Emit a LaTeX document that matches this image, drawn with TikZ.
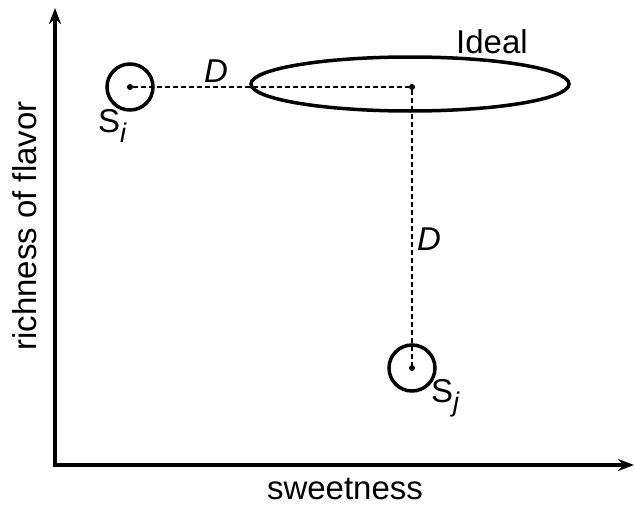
\documentclass[tikz,border=0pt]{standalone}
\usepackage{fontspec}
\setmainfont{Liberation Sans}
\usetikzlibrary{arrows.meta}
\begin{document}
\begin{tikzpicture}[x=1pt,y=-1pt,
  axis/.style={line width=3.6pt,-{Stealth[length=16pt,width=12pt]}},
  thick curve/.style={line width=3.5pt},
  dist/.style={line width=1.4pt,dash pattern=on 4.5pt off 3.5pt},
  lbl/.style={font=\fontsize{33}{38}\selectfont,inner sep=0pt},
  dotc/.style={circle,fill=black,inner sep=0pt,minimum size=6pt}]
\useasboundingbox (0,0) rectangle (635,506);
\coordinate (origin) at (55,465);
\coordinate (ytip) at (55,8);
\coordinate (xtip) at (634,465);
\draw[axis] (origin) -- (ytip);
\draw[axis] ([xshift=-1.8pt]origin) -- (xtip);
\node[dotc] (si) at (130,87) {};
\node[dotc] (ideal) at (412,87) {};
\node[dotc] (sj) at (412,368) {};
\draw[thick curve] (si) circle[radius=23];
\draw[thick curve] (sj) circle[radius=23];
\draw[thick curve] (410,84) ellipse[x radius=159, y radius=27];
\draw[dist] (si) -- (ideal);
\draw[dist] (ideal) -- (sj);
\node[lbl] (d1) at (216,71) {\itshape D};
\node[lbl] (d2) at (429,239) {\itshape D};
\node[lbl] (lideal) at (492,42) {Ideal};
\node[lbl,anchor=west] (lsi) at (98,126) {S\raisebox{-0.28em}{\itshape\fontsize{27}{29}\selectfont i}};
\node[lbl,anchor=west] (lsj) at (431,398) {S\raisebox{-0.28em}{\itshape\fontsize{27}{29}\selectfont j}};
\node[lbl,anchor=base] (xl) at (345,499) {sweetness};
\node[lbl,rotate=90,anchor=base] (yl) at (36,226) {richness of flavor};
\end{tikzpicture}
\end{document}
